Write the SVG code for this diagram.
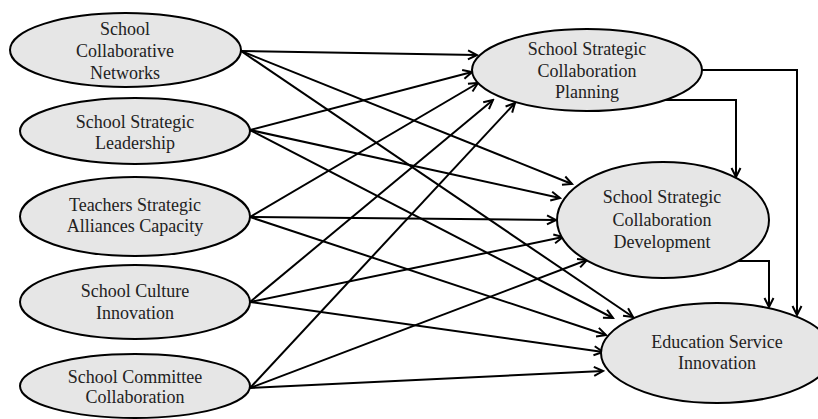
<svg xmlns="http://www.w3.org/2000/svg" width="818" height="419" viewBox="0 0 818 419">
<defs>
<style>
.n ellipse{fill:#e6e6e6;stroke:#000;stroke-width:2}
.n text{fill:#222;text-anchor:middle}
.c path,.c line{stroke:#000;stroke-width:2;fill:none;marker-end:url(#ah)}
</style>
<marker id="ah" markerUnits="userSpaceOnUse" markerWidth="12" markerHeight="12" refX="10" refY="5" orient="auto" viewBox="0 0 12 10">
<path d="M1,0.5 L10,5 L1,9.5" fill="none" stroke="#000" stroke-width="2"/>
</marker>
</defs>
<rect width="818" height="419" fill="#fff"/>
<g class="c">
<line x1="241" y1="51" x2="477" y2="55"/>
<line x1="241" y1="51" x2="572" y2="184"/>
<line x1="241" y1="51" x2="633" y2="317"/>
<line x1="250" y1="130" x2="472" y2="72"/>
<line x1="250" y1="130" x2="560" y2="198"/>
<line x1="250" y1="130" x2="613" y2="318"/>
<line x1="250" y1="217" x2="478" y2="83"/>
<line x1="250" y1="217" x2="556" y2="220"/>
<line x1="250" y1="217" x2="606" y2="335"/>
<line x1="250" y1="302" x2="493" y2="100"/>
<line x1="250" y1="302" x2="563" y2="237"/>
<line x1="250" y1="302" x2="603" y2="352"/>
<line x1="250" y1="388" x2="515" y2="103"/>
<line x1="250" y1="388" x2="587" y2="260"/>
<line x1="250" y1="388" x2="603" y2="371"/>
<path d="M702,70 H797 V315"/>
<path d="M663,100 H736 V177"/>
<path d="M737,261 H769 V307"/>
</g>
<g font-family="Liberation Serif, Times New Roman, DejaVu Serif, serif" font-size="18">
<g id="scn" class="n"><ellipse cx="125.5" cy="50" rx="115.5" ry="37"/><text x="125" y="35">School</text><text x="125" y="57">Collaborative</text><text x="125" y="79">Networks</text></g>
<g id="ssl" class="n"><ellipse cx="135" cy="131" rx="115" ry="33"/><text x="135" y="128">School Strategic</text><text x="135" y="149">Leadership</text></g>
<g id="tsac" class="n"><ellipse cx="135" cy="216.5" rx="115" ry="39.5"/><text x="135" y="211">Teachers Strategic</text><text x="135" y="232">Alliances Capacity</text></g>
<g id="sci" class="n"><ellipse cx="135" cy="302" rx="115" ry="37"/><text x="135" y="297">School Culture</text><text x="135" y="319">Innovation</text></g>
<g id="scc" class="n"><ellipse cx="135" cy="386" rx="115" ry="32"/><text x="135" y="383">School Committee</text><text x="135" y="403">Collaboration</text></g>
<g id="sscp" class="n"><ellipse cx="587" cy="70" rx="115" ry="41"/><text x="587" y="55">School Strategic</text><text x="587" y="77">Collaboration</text><text x="587" y="98">Planning</text></g>
<g id="sscd" class="n"><ellipse cx="663" cy="220" rx="106" ry="58"/><text x="662" y="203">School Strategic</text><text x="662" y="226">Collaboration</text><text x="662" y="248">Development</text></g>
<g id="esi" class="n"><ellipse cx="717" cy="353" rx="116" ry="50"/><text x="717" y="348">Education Service</text><text x="717" y="369">Innovation</text></g>
</g>
</svg>
